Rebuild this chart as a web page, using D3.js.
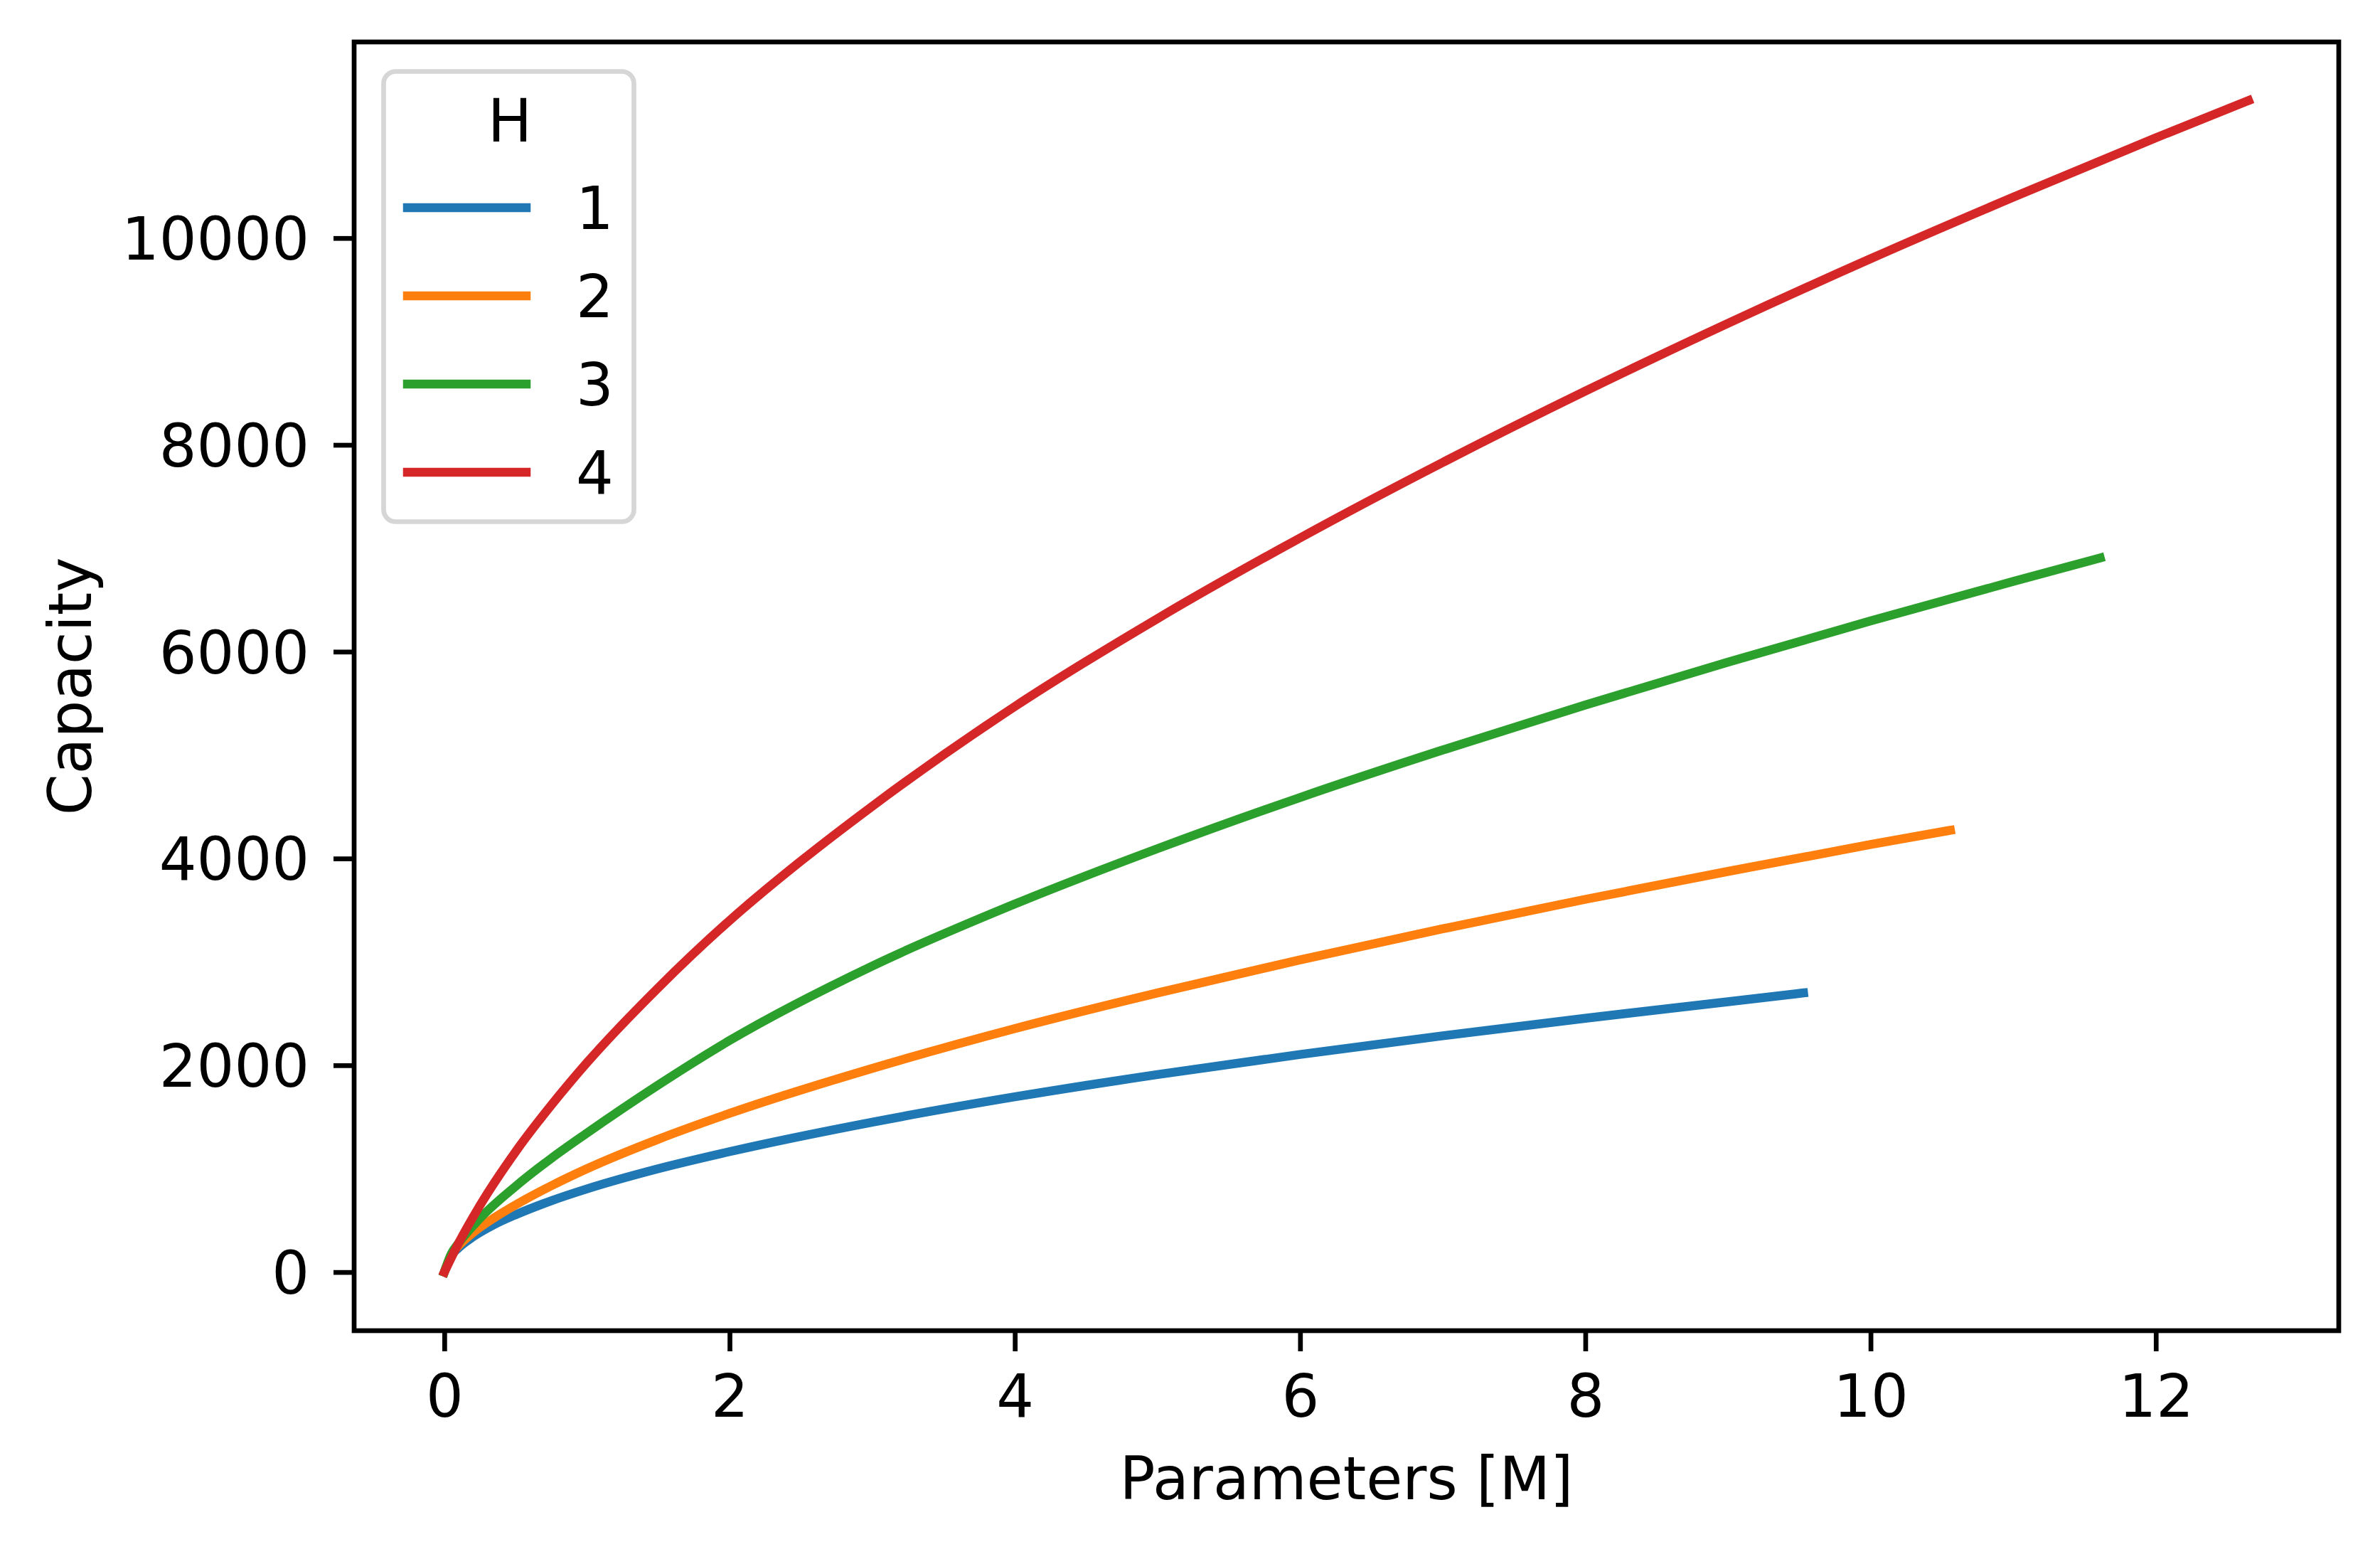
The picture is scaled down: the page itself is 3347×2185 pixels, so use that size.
<!DOCTYPE html>
<html lang="en">

<head>
  <meta charset="UTF-8">
  <title>Capacity vs Parameters</title>
  <style>
    body{
      margin: 0;
      background: #fff;
    }
    text{
      font-family: "DejaVu Sans", sans-serif;
    }
  </style>
</head>

<body>
  <div class="warp"></div>
  <script src="https://cdn.jsdelivr.net/npm/d3@7"></script>
  <script>
    // values (x = parameters in M, y = capacity)
    var hLabels = ['1', '2', '3', '4'];
    var colors = ['#1f77b4', '#ff7f0e', '#2ca02c', '#d62728'];

    var params1 = [0, 0.05, 0.1, 0.2, 0.35, 0.5, 0.75, 1, 1.5, 2, 3, 4, 5, 6, 7, 8, 9, 9.53];
    var cap1    = [0, 160, 235, 340, 460, 555, 690, 805, 1000, 1165, 1450, 1695, 1910, 2105, 2285, 2455, 2615, 2700];

    var params2 = [0, 0.05, 0.1, 0.2, 0.35, 0.5, 0.75, 1, 1.5, 2, 3, 4, 5, 6, 7, 8, 9, 10, 10.56];
    var cap2    = [0, 175, 255, 380, 525, 650, 835, 1000, 1285, 1535, 1970, 2355, 2700, 3020, 3320, 3605, 3875, 4135, 4273];

    var params3 = [0, 0.05, 0.1, 0.25, 0.5, 0.75, 1, 1.5, 2, 3, 4, 5, 6, 7, 8, 9, 10, 11, 11.61];
    var cap3    = [0, 180, 280, 520, 830, 1100, 1345, 1810, 2240, 2960, 3560, 4095, 4590, 5049, 5485, 5899, 6297, 6679, 6907];

    var params4 = [0, 0.1, 0.25, 0.5, 0.75, 1, 1.5, 2, 2.5, 3, 4, 5, 6, 7, 8, 9, 10, 11, 12, 12.65];
    var cap4    = [0, 280, 645, 1165, 1615, 2025, 2750, 3400, 3975, 4505, 5470, 6320, 7100, 7830, 8520, 9175, 9800, 10395, 10970, 11330];

    var xTicks = [0, 2, 4, 6, 8, 10, 12];
    var yTicks = [0, 2000, 4000, 6000, 8000, 10000];

    var allParams = [params1, params2, params3, params4];
    var allCaps = [cap1, cap2, cap3, cap4];

    var W = 3347, H = 2185;
    var box = {left: 498, right: 3289, top: 59, bottom: 1871};
    var fs = 83;

    var svg = d3.select('.warp').append('svg')
      .attr('width', W)
      .attr('height', H);

    // matplotlib style 5% margins
    var xMax = d3.max(allParams, function(a){ return d3.max(a); });
    var yMax = d3.max(allCaps, function(a){ return d3.max(a); });
    var x = d3.scaleLinear()
      .domain([-0.05 * xMax, xMax * 1.05])
      .range([box.left, box.right]);
    var y = d3.scaleLinear()
      .domain([-0.05 * yMax, yMax * 1.05])
      .range([box.bottom, box.top]);

    var series = allParams.map(function(p, i){
      return p.map(function(v, k){ return {x: v, y: allCaps[i][k]}; });
    });

    var line = d3.line()
      .x(function(d){ return x(d.x); })
      .y(function(d){ return y(d.y); })
      .curve(d3.curveMonotoneX);

    svg.append('g').selectAll('path')
      .data(series)
      .enter()
      .append('path')
      .attr('d', line)
      .attr('fill', 'none')
      .attr('stroke', function(d, i){ return colors[i]; })
      .attr('stroke-width', 12.5)
      .attr('stroke-linecap', 'square')
      .attr('stroke-linejoin', 'round');

    // axes
    var xAxis = d3.axisBottom(x).tickValues(xTicks).tickSize(29).tickPadding(29).tickFormat(d3.format('d'));
    var yAxis = d3.axisLeft(y).tickValues(yTicks).tickSize(29).tickPadding(34).tickFormat(d3.format('d'));

    var gx = svg.append('g').attr('transform', 'translate(0,' + box.bottom + ')').call(xAxis);
    var gy = svg.append('g').attr('transform', 'translate(' + box.left + ',0)').call(yAxis);
    [gx, gy].forEach(function(g){
      g.select('.domain').remove();
      g.selectAll('.tick line').attr('stroke', '#000').attr('stroke-width', 6.7);
      g.selectAll('.tick text').attr('fill', '#000').style('font-size', fs + 'px');
    });
    gx.selectAll('.tick text').attr('dy', '0.76em');
    gy.selectAll('.tick text').attr('dy', '0.36em');

    // frame
    svg.append('rect')
      .attr('x', box.left)
      .attr('y', box.top)
      .attr('width', box.right - box.left)
      .attr('height', box.bottom - box.top)
      .attr('fill', 'none')
      .attr('stroke', '#000')
      .attr('stroke-width', 6.7)
      .attr('stroke-linecap', 'square');

    svg.append('text')
      .attr('x', (box.left + box.right) / 2)
      .attr('y', 2108)
      .attr('text-anchor', 'middle')
      .style('font-size', fs + 'px')
      .text('Parameters [M]');

    svg.append('text')
      .attr('transform', 'translate(128,' + (box.top + box.bottom) / 2 + ') rotate(-90)')
      .attr('text-anchor', 'middle')
      .style('font-size', fs + 'px')
      .text('Capacity');

    // legend
    var lg = svg.append('g');
    lg.append('rect')
      .attr('x', 539.5)
      .attr('y', 100.5)
      .attr('width', 352)
      .attr('height', 633)
      .attr('rx', 17)
      .attr('fill', '#fff')
      .attr('fill-opacity', 0.8)
      .attr('stroke', '#d6d6d6')
      .attr('stroke-width', 6.7);
    lg.append('text')
      .attr('x', 717)
      .attr('y', 199)
      .attr('text-anchor', 'middle')
      .style('font-size', fs + 'px')
      .text('H');
    var item = lg.selectAll('g.item')
      .data(hLabels)
      .enter()
      .append('g')
      .attr('class', 'item')
      .attr('transform', function(d, i){ return 'translate(0,' + (292 + i * 124) + ')'; });
    item.append('line')
      .attr('x1', 573)
      .attr('x2', 740)
      .attr('stroke', function(d, i){ return colors[i]; })
      .attr('stroke-width', 12.5)
      .attr('stroke-linecap', 'square');
    item.append('text')
      .attr('x', 810)
      .attr('y', 30)
      .style('font-size', fs + 'px')
      .text(function(d){ return d; });
  </script>
</body>

</html>
